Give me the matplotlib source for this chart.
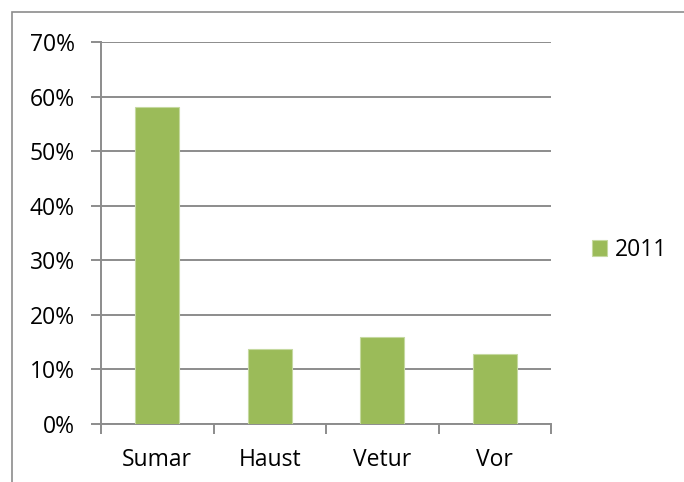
import matplotlib.pyplot as plt
from matplotlib.patches import Rectangle
from matplotlib.ticker import PercentFormatter

# ---------------------
#  Dados
# ---------------------
categorias = ['Sumar', 'Haust', 'Vetur', 'Vor']
valores_2011 = [0.581, 0.137, 0.160, 0.128]
serie = '2011'

plt.rcParams['font.family'] = ['Open Sans', 'DejaVu Sans']

fig = plt.figure(figsize=(6.84, 4.82), dpi=100)
ax = fig.add_axes([101 / 684, 1 - 424 / 482, 450 / 684, 382 / 482])

cor_barra = '#9BBB59'
cor_grade = '#8C8C8C'

x = range(len(categorias))
ax.bar(x, valores_2011, width=0.39, color=cor_barra, edgecolor='#C5D9A0',
       linewidth=0.8, label=serie, zorder=3)

ax.set_xlim(-0.5, len(categorias) - 0.5)
ax.set_ylim(0, 0.70)
ax.set_yticks([i / 10 for i in range(8)])
ax.yaxis.set_major_formatter(PercentFormatter(1.0, decimals=0))
ax.grid(axis='y', color=cor_grade, linewidth=1.4, zorder=0)

ax.set_xticks(list(x))
ax.set_xticklabels(categorias)
ax.set_xticks([i - 0.5 for i in range(len(categorias) + 1)], minor=True)
ax.tick_params(axis='x', which='major', length=0, pad=17, labelsize=16.5)
ax.tick_params(axis='x', which='minor', length=7, width=1.4, color=cor_grade)
ax.tick_params(axis='y', length=7, width=1.4, color=cor_grade, pad=12, labelsize=16.5)

for lado in ['top', 'right']:
    ax.spines[lado].set_visible(False)
for lado in ['left', 'bottom']:
    ax.spines[lado].set_color(cor_grade)
    ax.spines[lado].set_linewidth(1.4)

ax.legend(loc='center left', bbox_to_anchor=(1.045, 0.455), frameon=False,
          fontsize=16.5, handlelength=0.65, handleheight=0.65, handletextpad=0.35)

# moldura do gráfico (cortada nas bordas)
fig.patches.append(Rectangle((12 / 684, -0.2), 1.2, 1.2 - 12 / 482,
                             transform=fig.transFigure, fill=False,
                             edgecolor='#8C8C8C', linewidth=1.2))

plt.savefig('out.png', dpi=100)
